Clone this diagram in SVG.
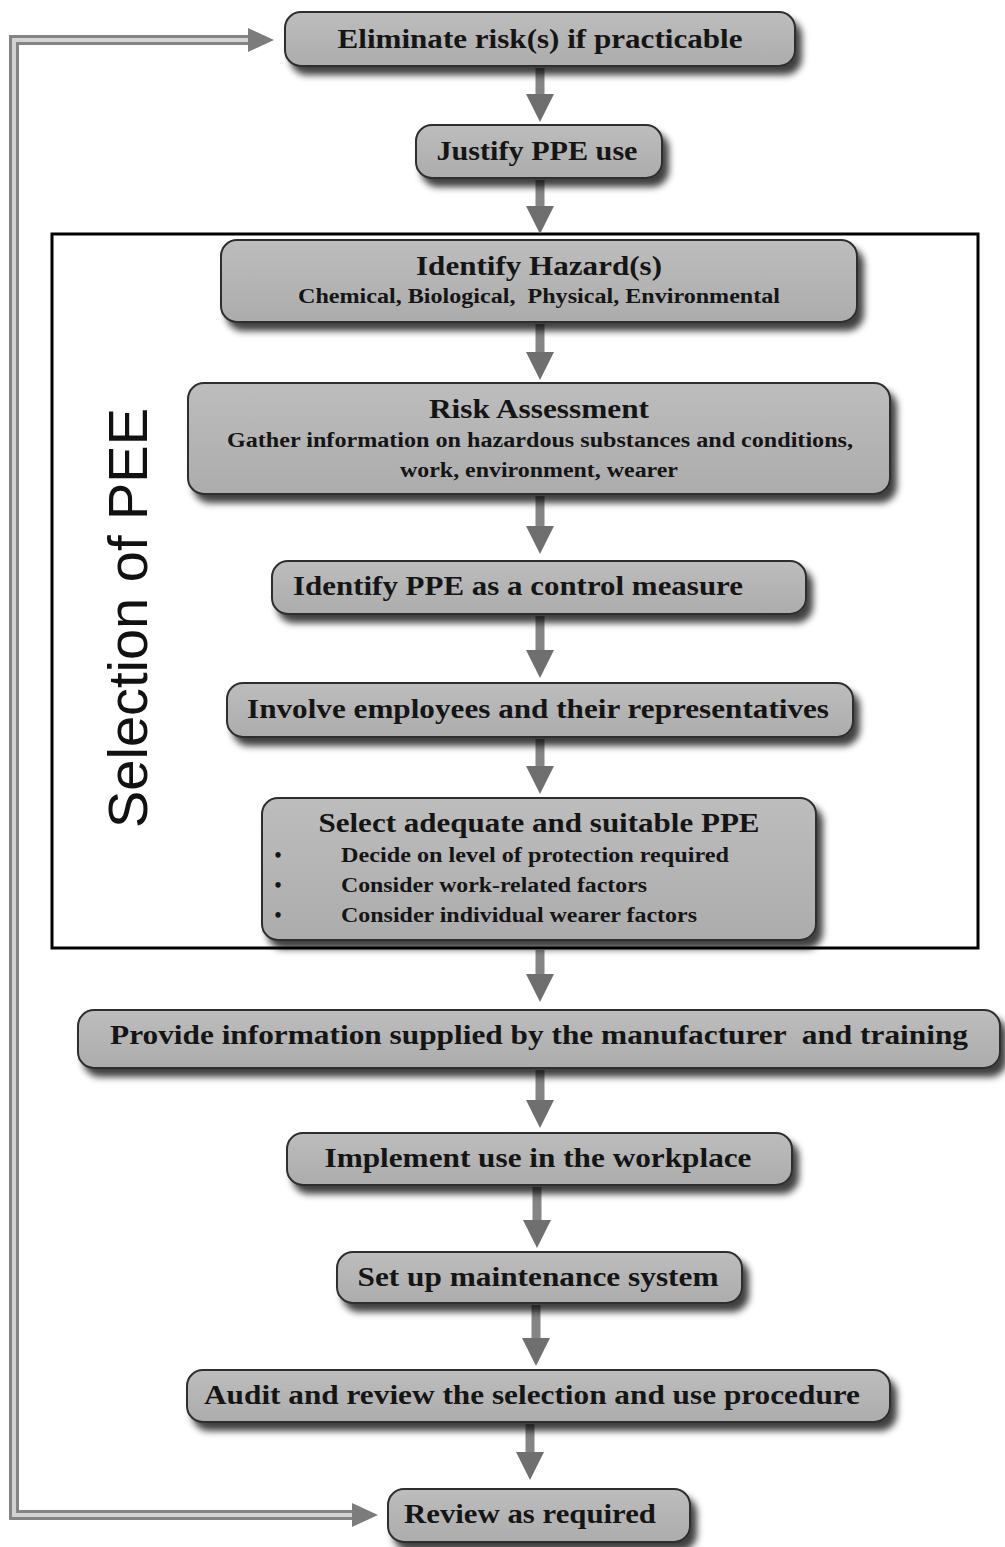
<svg xmlns="http://www.w3.org/2000/svg" width="1005" height="1547" viewBox="0 0 1005 1547">
<defs>
<filter id="sh" x="-10%" y="-30%" width="130%" height="180%">
<feDropShadow dx="6" dy="8" stdDeviation="3.5" flood-color="#000" flood-opacity="0.75"/>
</filter>
<linearGradient id="g" x1="0" y1="0" x2="0" y2="1">
<stop offset="0" stop-color="#bdbdbd"/>
<stop offset="1" stop-color="#acacac"/>
</linearGradient>
<marker id="ah" markerUnits="userSpaceOnUse" viewBox="0 0 28 28" refX="0" refY="14" markerWidth="28" markerHeight="28" orient="auto">
<path d="M0,0 L28,14 L0,28 z" fill="#6f6f6f"/>
</marker>
<marker id="lh" markerUnits="userSpaceOnUse" viewBox="0 0 26 24" refX="0" refY="12" markerWidth="26" markerHeight="24" orient="auto-start-reverse">
<path d="M0,0 L26,12 L0,24 z" fill="#7c7c7c"/>
</marker>
</defs>
<style>
.n rect{fill:url(#g);stroke:#2e2e2e;stroke-width:2;filter:url(#sh)}
.n text{font-family:"Liberation Serif",serif;font-weight:bold;fill:#151515;text-anchor:middle;white-space:pre}
.t{font-size:28px}
.s{font-size:20px}
.l{text-anchor:start !important}
.a{stroke:#858585;stroke-width:9;fill:none}
</style>
<rect x="52" y="234" width="926" height="714" fill="none" stroke="#000" stroke-width="3"/>
<text transform="translate(147,618) rotate(-90)" text-anchor="middle" font-family="Liberation Sans,Arial,sans-serif" font-size="56" fill="#111" textLength="420" lengthAdjust="spacingAndGlyphs">Selection of PEE</text>
<g id="connectors">
<path d="M248,40 H14 V1515 H352" fill="none" stroke="#848484" stroke-width="10" marker-start="url(#lh)" marker-end="url(#lh)"/>
<path d="M248,40 H14 V1515 H352" fill="none" stroke="#d2d2d2" stroke-width="4"/>
<path class="a" d="M540,68 V94" marker-end="url(#ah)"/>
<path class="a" d="M540,180 V206" marker-end="url(#ah)"/>
<path class="a" d="M540,324 V352" marker-end="url(#ah)"/>
<path class="a" d="M540,496 V526" marker-end="url(#ah)"/>
<path class="a" d="M540,616 V650" marker-end="url(#ah)"/>
<path class="a" d="M540,739 V766" marker-end="url(#ah)"/>
<path class="a" d="M540,950 V974" marker-end="url(#ah)"/>
<path class="a" d="M540,1070 V1100" marker-end="url(#ah)"/>
<path class="a" d="M537,1187 V1220" marker-end="url(#ah)"/>
<path class="a" d="M536,1305 V1338" marker-end="url(#ah)"/>
<path class="a" d="M530,1424 V1452" marker-end="url(#ah)"/>
</g>
<g id="n1" class="n"><rect x="285" y="12" width="510" height="54" rx="16"/><text class="t" x="540" y="48" textLength="405" lengthAdjust="spacingAndGlyphs">Eliminate risk(s) if practicable</text></g>
<g id="n2" class="n"><rect x="416" y="125" width="246" height="53" rx="16"/><text class="t" x="537" y="160" textLength="201" lengthAdjust="spacingAndGlyphs">Justify PPE use</text></g>
<g id="n3" class="n"><rect x="221" y="240" width="636" height="82" rx="16"/><text class="t" x="539" y="275" textLength="246" lengthAdjust="spacingAndGlyphs">Identify Hazard(s)</text><text class="s" x="539" y="303" textLength="482" lengthAdjust="spacingAndGlyphs" xml:space="preserve">Chemical, Biological,  Physical, Environmental</text></g>
<g id="n4" class="n"><rect x="188" y="383" width="702" height="111" rx="16"/><text class="t" x="539" y="418" textLength="220" lengthAdjust="spacingAndGlyphs">Risk Assessment</text><text class="s" x="540" y="447" textLength="626" lengthAdjust="spacingAndGlyphs">Gather information on hazardous substances and conditions,</text><text class="s" x="539" y="477" textLength="278" lengthAdjust="spacingAndGlyphs">work, environment, wearer</text></g>
<g id="n5" class="n"><rect x="272" y="561" width="534" height="53" rx="16"/><text class="t" x="518" y="595" textLength="450" lengthAdjust="spacingAndGlyphs">Identify PPE as a control measure</text></g>
<g id="n6" class="n"><rect x="227" y="683" width="626" height="54" rx="16"/><text class="t" x="538" y="718" textLength="582" lengthAdjust="spacingAndGlyphs">Involve employees and their representatives</text></g>
<g id="n7" class="n"><rect x="262" y="798" width="554" height="142" rx="16"/><text class="t" x="539" y="832" textLength="441" lengthAdjust="spacingAndGlyphs">Select adequate and suitable PPE</text>
<text class="s" x="278" y="862">•</text><text class="s" x="278" y="892">•</text><text class="s" x="278" y="922">•</text>
<text class="s l" x="341" y="862" textLength="388" lengthAdjust="spacingAndGlyphs">Decide on level of protection required</text>
<text class="s l" x="341" y="892" textLength="306" lengthAdjust="spacingAndGlyphs">Consider work-related factors</text>
<text class="s l" x="341" y="922" textLength="356" lengthAdjust="spacingAndGlyphs">Consider individual wearer factors</text></g>
<g id="n8" class="n"><rect x="78" y="1010" width="922" height="58" rx="16"/><text class="t" x="539" y="1044" textLength="858" lengthAdjust="spacingAndGlyphs" xml:space="preserve">Provide information supplied by the manufacturer  and training</text></g>
<g id="n9" class="n"><rect x="287" y="1133" width="505" height="52" rx="16"/><text class="t" x="538" y="1167" textLength="427" lengthAdjust="spacingAndGlyphs">Implement use in the workplace</text></g>
<g id="n10" class="n"><rect x="337" y="1252" width="405" height="51" rx="16"/><text class="t" x="538" y="1286" textLength="361" lengthAdjust="spacingAndGlyphs">Set up maintenance system</text></g>
<g id="n11" class="n"><rect x="187" y="1370" width="703" height="52" rx="16"/><text class="t" x="532" y="1404" textLength="656" lengthAdjust="spacingAndGlyphs">Audit and review the selection and use procedure</text></g>
<g id="n12" class="n"><rect x="388" y="1489" width="302" height="53" rx="16"/><text class="t" x="530" y="1523" textLength="252" lengthAdjust="spacingAndGlyphs">Review as required</text></g>
</svg>
